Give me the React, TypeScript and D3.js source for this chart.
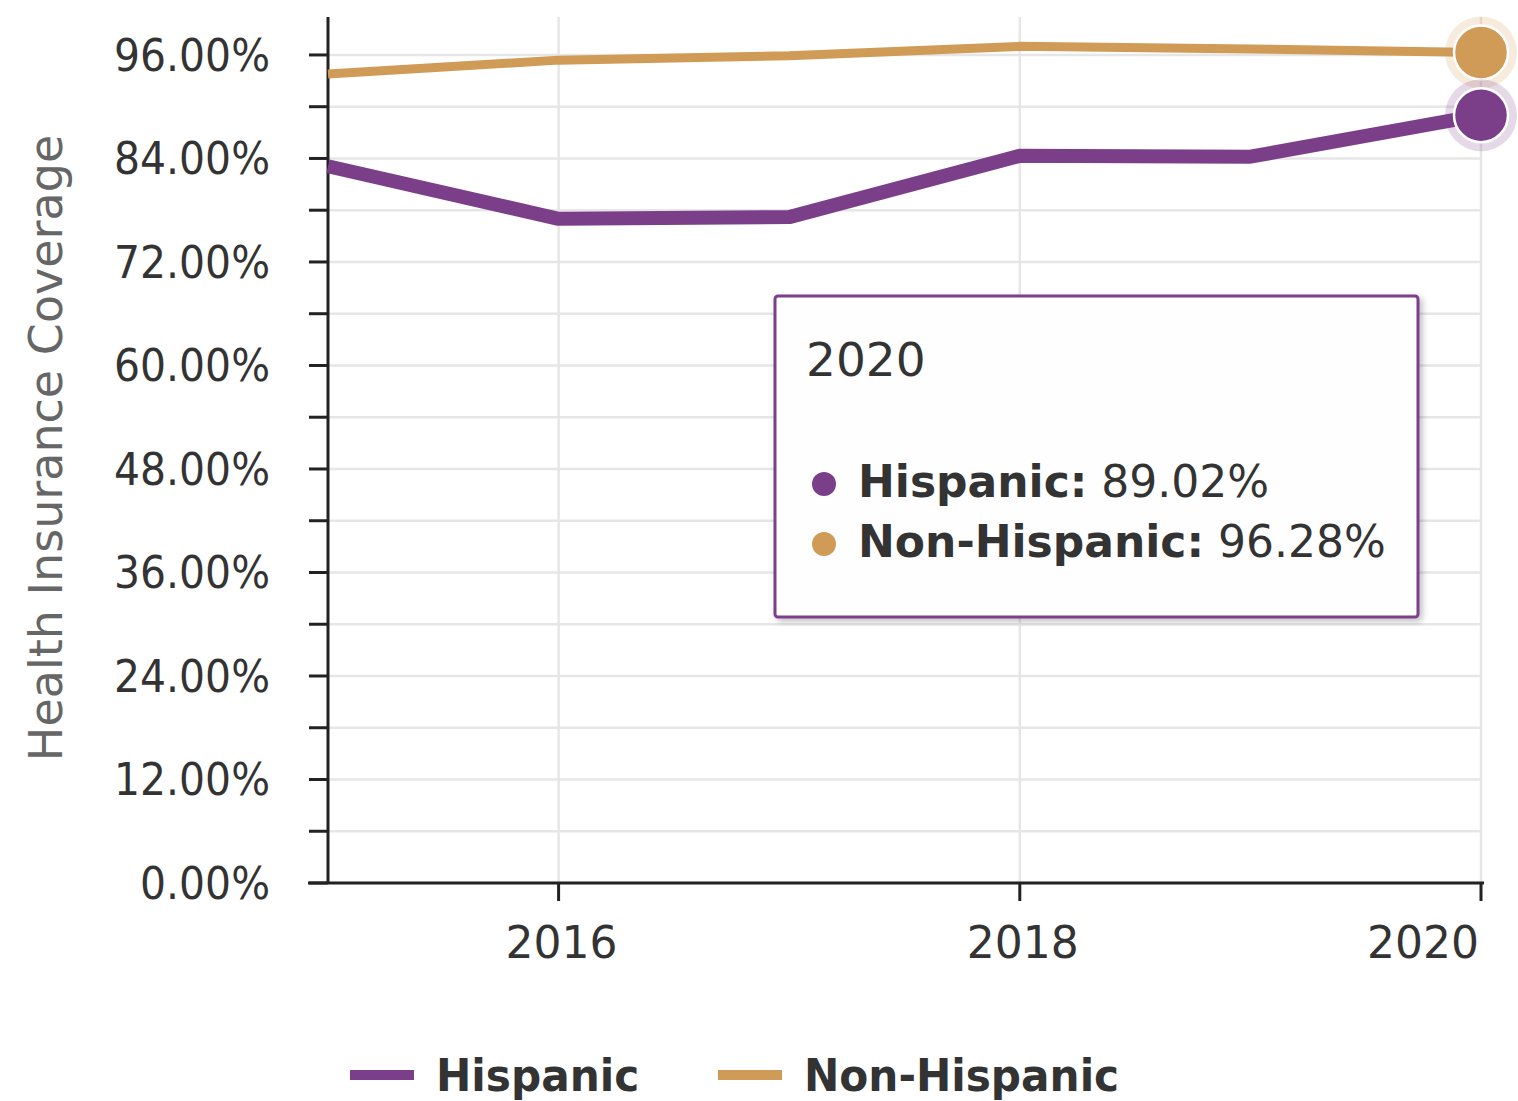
import React from "react";
import * as d3 from "d3";

const years = [2015, 2016, 2017, 2018, 2019, 2020];
const hispanic = [83.1, 77.0, 77.2, 84.3, 84.2, 89.02];
const nonHispanic = [93.8, 95.4, 95.9, 97.0, 96.7, 96.28];
const yTicks = [0, 12, 24, 36, 48, 60, 72, 84, 96];
const yMinorTicks = [6, 18, 30, 42, 54, 66, 78, 90];
const xTicks = [2016, 2018, 2020];
const seriesNames = ["Hispanic", "Non-Hispanic"];
const colors = ["#7B3F8A", "#D09A57"];

const W = 1518;
const H = 1101;
const margin = { left: 328, right: 37, top: 17, bottom: 218 };
const FONT = "'DejaVu Sans', sans-serif";

type TProps = {
  x: number;
  y: number;
  anchor?: string;
  size: number;
  fill: string;
  weight?: string;
  children: React.ReactNode;
  sx?: number;
};

const T = (props: TProps) => (
  <g transform={`translate(${props.x},${props.y}) scale(${props.sx ?? 1},1)`}>
    <text
      textAnchor={props.anchor ?? "start"}
      fontSize={props.size}
      fill={props.fill}
      fontWeight={props.weight ?? "normal"}
      fontFamily={FONT}
    >
      {props.children}
    </text>
  </g>
);

export default function App() {
  const x = d3.scaleLinear().domain([2015, 2020]).range([margin.left, W - margin.right]);
  const y = d3.scaleLinear().domain([0, 100.4]).range([H - margin.bottom, margin.top]);
  const line = d3
    .line<number>()
    .x((_, i) => x(years[i]))
    .y((d) => y(d));
  const allY = [...yTicks, ...yMinorTicks];
  const lastIdx = years.length - 1;

  return (
    <svg width={W} height={H} style={{ position: "absolute", left: 0, top: 0, background: "#fff" }}>
      <defs>
        <filter id="shadow" x="-10%" y="-10%" width="130%" height="130%">
          <feDropShadow dx="3" dy="3" stdDeviation="3" floodColor="#000" floodOpacity="0.25" />
        </filter>
      </defs>
      {/* grid */}
      {allY.map((t) => (
        <line key={"g" + t} x1={x(2015)} x2={x(2020)} y1={y(t)} y2={y(t)} stroke="#e6e6e6" strokeWidth={2.5} />
      ))}
      {xTicks.map((t) => (
        <line key={"v" + t} x1={x(t)} x2={x(t)} y1={y(100.4)} y2={y(0)} stroke="#e6e6e6" strokeWidth={2.5} />
      ))}
      {/* axes */}
      <line x1={x(2015)} x2={x(2015)} y1={y(100.4)} y2={y(0)} stroke="#222" strokeWidth={3} />
      <line x1={x(2015) - 20} x2={x(2020) + 3} y1={y(0)} y2={y(0)} stroke="#222" strokeWidth={3} />
      {allY.map((t) => (
        <line key={"t" + t} x1={x(2015) - 19} x2={x(2015)} y1={y(t)} y2={y(t)} stroke="#222" strokeWidth={3} />
      ))}
      {xTicks.map((t) => (
        <line key={"xt" + t} x1={x(t)} x2={x(t)} y1={y(0)} y2={y(0) + 18} stroke="#222" strokeWidth={3} />
      ))}
      {yTicks.map((t) => (
        <T key={"yl" + t} x={270} y={y(t) + 16} anchor="end" size={44} fill="#333" sx={0.93}>
          {t.toFixed(2) + "%"}
        </T>
      ))}
      {xTicks.map((t) => (
        <T key={"xl" + t} x={t === 2020 ? x(t) - 2 : x(t) + 3} y={958} anchor={t === 2020 ? "end" : "middle"} size={44} fill="#333">
          {String(t)}
        </T>
      ))}
      <g transform={`translate(62,448) rotate(-90)`}>
        <text textAnchor="middle" fontSize={46} fill="#666" fontFamily={FONT}>
          Health Insurance Coverage
        </text>
      </g>
      {/* lines */}
      <path d={line(nonHispanic) ?? ""} fill="none" stroke={colors[1]} strokeWidth={9} strokeLinejoin="round" />
      <path d={line(hispanic) ?? ""} fill="none" stroke={colors[0]} strokeWidth={14} strokeLinejoin="round" />
      {/* hover markers */}
      {[nonHispanic, hispanic].map((s, k) => {
        const c = k === 0 ? colors[1] : colors[0];
        return (
          <g key={"m" + k}>
            <circle cx={x(years[lastIdx])} cy={y(s[lastIdx])} r={36} fill={c} opacity={0.2} />
            <circle cx={x(years[lastIdx])} cy={y(s[lastIdx])} r={27} fill={c} stroke="#fff" strokeWidth={2.5} />
          </g>
        );
      })}
      {/* tooltip */}
      <g>
        <rect x={775} y={296} width={643} height={321} fill="#fff" fillOpacity={0.97} stroke={colors[0]} strokeWidth={3} rx={3} filter="url(#shadow)" />
        <T x={806} y={376} size={47} fill="#333">
          {String(years[lastIdx])}
        </T>
        {[hispanic, nonHispanic].map((s, k) => (
          <g key={"tt" + k}>
            <circle cx={824} cy={484 + k * 60} r={12} fill={colors[k]} />
            <T x={858} y={497 + k * 60} size={44} fill="#333">
              <tspan fontWeight="bold">{seriesNames[k] + ":"}</tspan>
              <tspan>{" " + s[lastIdx].toFixed(2) + "%"}</tspan>
            </T>
          </g>
        ))}
      </g>
      {/* legend */}
      {seriesNames.map((n, k) => {
        const lx = k === 0 ? 350 : 718;
        return (
          <g key={"lg" + n}>
            <line x1={lx} x2={lx + 64} y1={1075} y2={1075} stroke={colors[k]} strokeWidth={10} />
            <T x={lx + 86} y={1091} size={44} fill="#333" weight="bold" sx={0.96}>
              {n}
            </T>
          </g>
        );
      })}
    </svg>
  );
}
